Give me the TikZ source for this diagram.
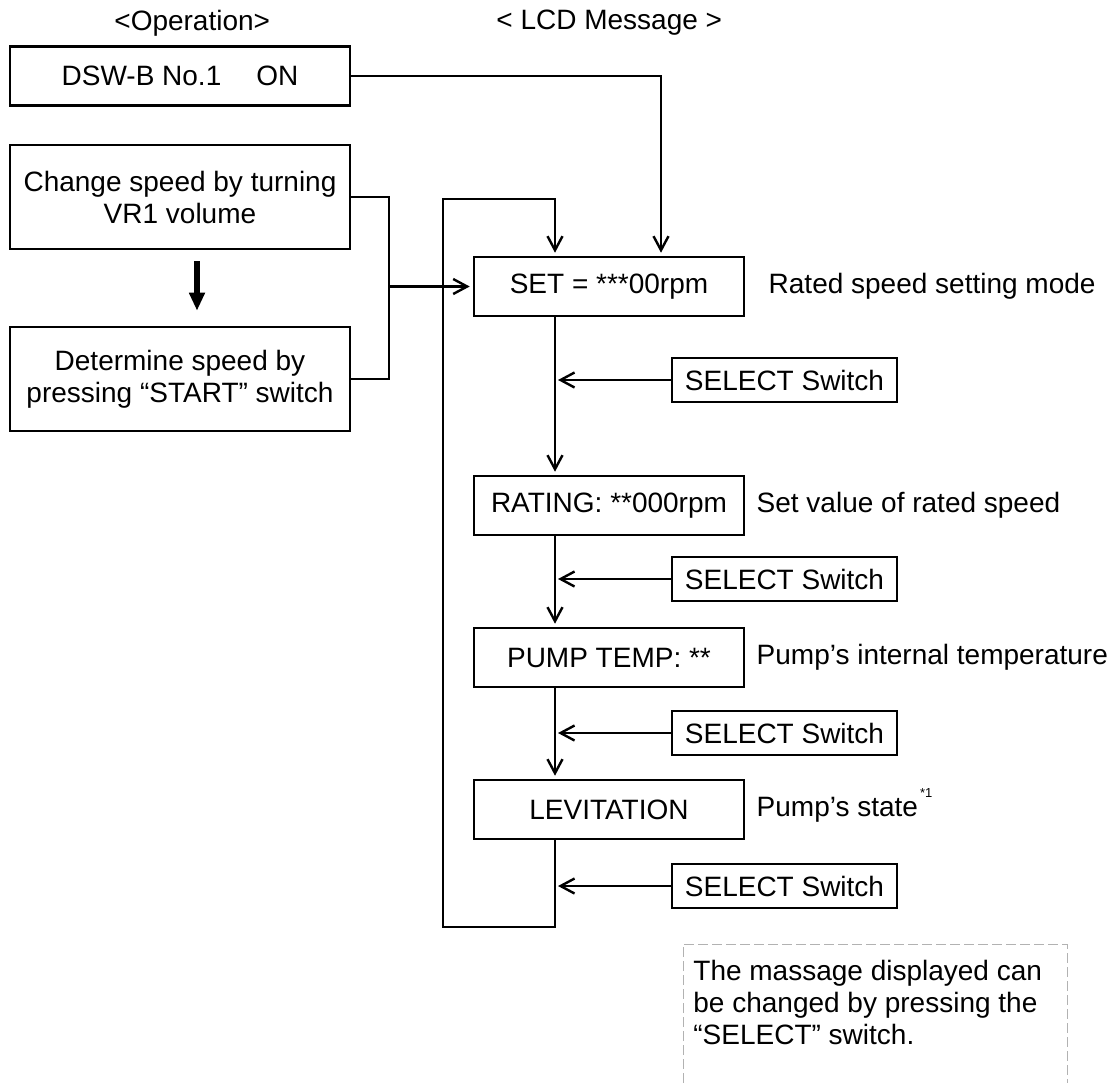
\documentclass[tikz,border=0pt]{standalone}
\usepackage{fontspec}
\setmainfont{Liberation Sans}
\usetikzlibrary{arrows.meta,positioning}

\tikzset{
  box/.style={draw, line width=1.3pt, inner sep=0pt},
  opbox/.style={box, align=center, minimum width=170pt},
  lcdbox/.style={box, minimum width=135pt, minimum height=29.5pt},
  selbox/.style={box, minimum width=112.5pt, minimum height=22pt},
  flow/.style={line width=1.2pt, -{Straight Barb[length=7pt,width=7.5pt]}, shorten >=1.5pt},
  link/.style={line width=1.2pt},
  remark/.style={anchor=west, inner sep=0pt},
  bigarrow/.style={line width=2.8pt, -{Triangle[length=9pt,width=7.5pt]}}
}

\begin{document}
\begin{tikzpicture}[x=0.5pt,y=-0.5pt,font=\fontsize{14}{16}\selectfont]
  \useasboundingbox (0,0) rectangle (1114,1083);

  % headings
  \node[remark] (ophead) at (114,23) {<Operation>};
  \node[remark] (lcdhead) at (496,23) {< LCD Message >};

  % operation side
  \node[opbox, minimum height=29.5pt] (dsw) at (180,76) {DSW-B No.1\hspace{1.25em}ON};
  \node[opbox, minimum height=52pt] (chg) at (180,197) {Change speed by turning\\VR1 volume};
  \node[opbox, minimum height=52pt] (det) at (180,379) {Determine speed by\\pressing “START” switch};

  % LCD side
  \node[lcdbox] (set) at (609,286.5) {SET = ***00rpm};
  \node[lcdbox] (rat) at (609,505.5) {RATING: **000rpm};
  \node[lcdbox] (tmp) at (609,657.5) {PUMP TEMP: **\hspace{14pt}};
  \node[lcdbox] (lev) at (609,809.5) {LEVITATION};

  \node[selbox] (sel1) at (784.5,380) {SELECT Switch};
  \node[selbox] (sel2) at (784.5,579) {SELECT Switch};
  \node[selbox] (sel3) at (784.5,733) {SELECT Switch};
  \node[selbox] (sel4) at (784.5,886) {SELECT Switch};

  \node[remark, right=11.5pt of set] (rmk1) {Rated speed setting mode};
  \node[remark, right=5.5pt of rat] (rmk2) {Set value of rated speed};
  \node[remark, right=5.5pt of tmp] (rmk3) {Pump’s internal temperature};
  \node[remark, right=5.5pt of lev] (rmk4) {Pump’s state\smash{\raisebox{1.3ex}{\hspace{1pt}\fontsize{6.5}{7}\selectfont *1}}};

  % connectors
  \coordinate (flowx) at (555,0);
  \coordinate (dswx) at (661,0);
  \coordinate (brkx) at (389,0);
  \coordinate (loopB) at (443,927);
  \coordinate (loopT) at (443,199);

  \draw[link] (chg.east) -| (brkx |- det.east) -- (det.east);
  \draw[flow] (brkx |- set.west) -- (set.west);
  \draw[flow] (dsw.east) -| (set.north -| dswx);
  \draw[flow] (lev.south -| flowx) |- (loopB) -- (loopT) -| (set.north -| flowx);

  \draw[flow] (set.south -| flowx) -- (rat.north -| flowx);
  \draw[flow] (rat.south -| flowx) -- (tmp.north -| flowx);
  \draw[flow] (tmp.south -| flowx) -- (lev.north -| flowx);
  \foreach \s in {sel1,sel2,sel3,sel4}
    \draw[flow] (\s.west) -- (\s.west -| flowx);

  \draw[bigarrow] ([xshift=8.5pt,yshift=-5.5pt]chg.south) -- ([xshift=8.5pt,yshift=7.5pt]det.north);

  % note
  \node[anchor=north west, inner sep=0pt, align=left] (msg) at (693,960)
    {The massage displayed can\\be changed by pressing the\\“SELECT” switch.};
  \draw[gray!60, line width=0.5pt, dash pattern=on 5pt off 2pt] (683,1083) |- (1067,944) -- (1067,1083);
\end{tikzpicture}
\end{document}
